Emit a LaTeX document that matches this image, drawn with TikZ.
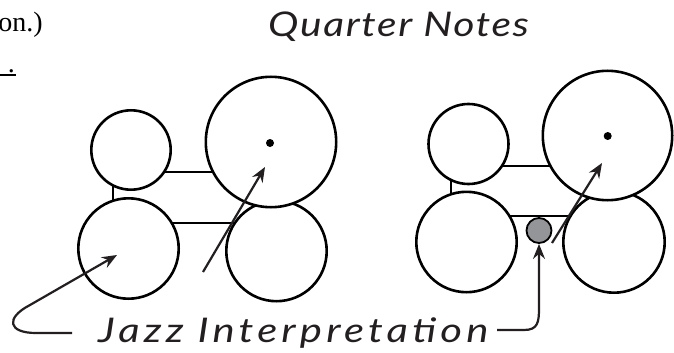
\documentclass[tikz,border=0pt]{standalone}
\usepackage{fontspec}
\setmainfont{Liberation Serif}
\newfontfamily\handfont[LetterSpace=10]{Lato}
\newfontfamily\headfont[LetterSpace=4]{Lato}
\usepackage{tikz}
\usetikzlibrary{arrows.meta}
\definecolor{inkgray}{HTML}{231F20}
\definecolor{dotgray}{HTML}{939598}

\begin{document}
\begin{tikzpicture}[x=1pt, y=-1pt]
	\tikzset{note/.style={draw, circle, line width=2.6pt, fill=white, inner sep=0pt},
		stem/.style={line width=2.6pt},
		pointer/.style={-{Stealth[length=15pt,width=12pt,inset=5pt]}, line width=2.2pt, draw=inkgray},
		hand/.style={font=\fontsize{34}{40}\selectfont, inner sep=1pt, text=inkgray}}
	\useasboundingbox (0,0) rectangle (674,353);
	% text cut off at the page edge
	\node[anchor=base east, inner sep=0pt, font=\fontsize{28}{30}\selectfont] (cuta) at (43,32) {on.)};
	\node[anchor=base east, inner sep=0pt, font=\fontsize{28}{30}\selectfont] (cutb) at (15,72) {.};
	\draw[line width=1.3pt] (0,75) -- (16,75);
	\node[hand, anchor=base west] (title) at (267,37) {\scalebox{1.2}[1]{\headfont\itshape Quarter Notes}};
	% straight quarter notes
	\draw[stem] (113,172) rectangle (270,223);
	\node[note, minimum size=79.4pt] (sa1) at (131,150) {};
	\node[note, minimum size=100.4pt] (sb1) at (128.5,248.5) {};
	\node[note, minimum size=100.4pt] (sc1) at (276.5,251) {};
	\node[note, minimum size=130.4pt] (sd1) at (271,142) {};
	\fill (270,143) circle[radius=4];
	% jazz quarter notes
	\draw[stem] (451,166) rectangle (608,216);
	\node[note, minimum size=80pt] (sa2) at (468.5,144) {};
	\node[note, minimum size=100.4pt] (sb2) at (466.5,242) {};
	\node[note, minimum size=101.4pt] (sc2) at (614,242) {};
	\node[note, minimum size=129.4pt] (sd2) at (607.5,135.5) {};
	\fill (607.7,136) circle[radius=4];
	\node[draw, circle, line width=1.8pt, fill=dotgray, inner sep=0pt, minimum size=25pt] (grace) at (539,230.5) {};
	% labels and pointers
	\node[hand, anchor=base west] (jazz) at (97,342) {\scalebox{1.23}[1]{\handfont\itshape Jazz Interpretation}};
	\coordinate (jl) at (72,333);
	\coordinate (jr) at (497,330);
	\coordinate (ta) at (117,255);
	\coordinate (fa) at (203,272);
	\coordinate (tb) at (265,167);
	\coordinate (fb) at (552,243);
	\coordinate (tc) at (602,163);
	\draw[pointer] (fa) -- (tb);
	\draw[pointer] (fb) -- (tc);
	\draw[pointer] (jl) -- (36,333) .. controls (8,333) and (5,318) .. (30,305) -- (ta);
	\draw[pointer] (jr) -- (524,330) .. controls (538,330) and (539,322) .. (539,308) -- (grace.south);
\end{tikzpicture}
\end{document}
